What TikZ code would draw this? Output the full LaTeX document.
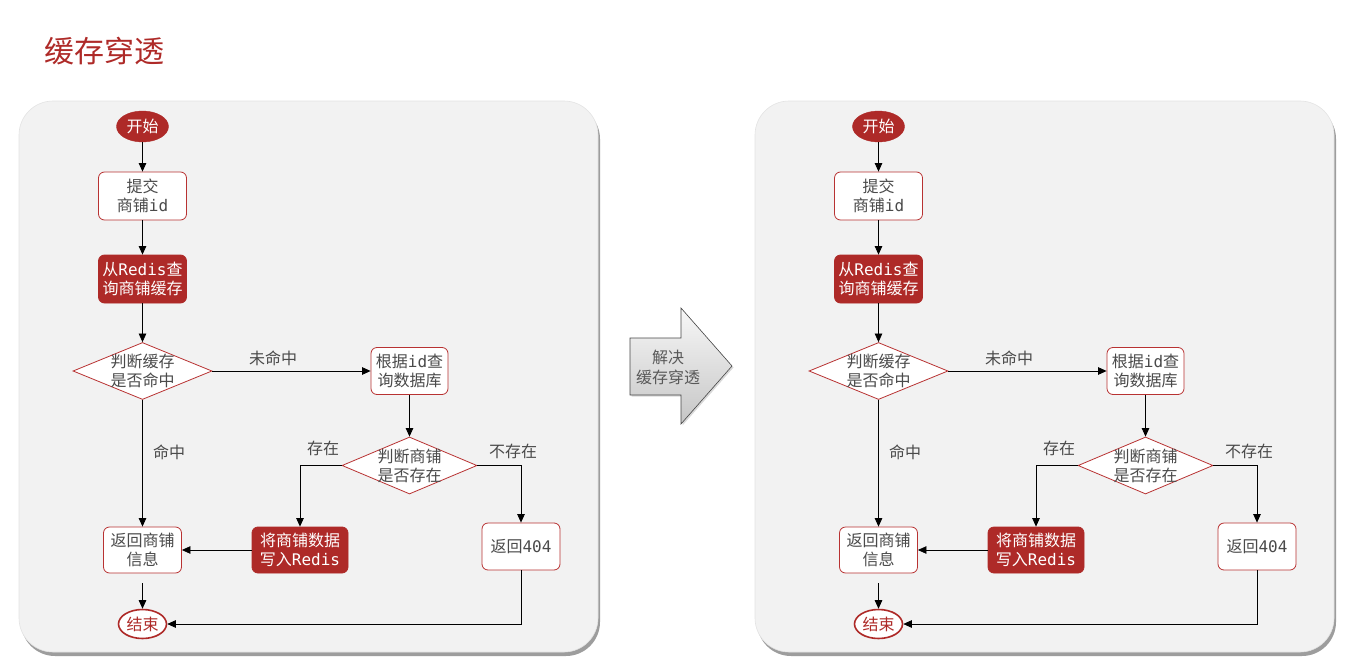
\documentclass[tikz,border=0pt]{standalone}
\usepackage{fontspec}
\newfontfamily\cjk{Noto Sans CJK SC}
\newfontfamily\mono{DejaVu Sans Mono}
\usetikzlibrary{shapes.geometric,arrows.meta,shadows,calc}
\definecolor{dred}{HTML}{AE2A28}
\definecolor{bred}{HTML}{B83232}
\definecolor{txtc}{HTML}{4A4A4A}
\definecolor{panelc}{HTML}{F2F2F2}
\newcommand\lat[1]{{\mono #1}}
\begin{document}
\begin{tikzpicture}[x=1pt,y=-1pt,
  every node/.style={font=\cjk\fontsize{16}{19}\selectfont, text=txtc, align=center, inner sep=0pt},
  box/.style={draw=bred, line width=0.8pt, fill=white, rounded corners=6pt},
  redbox/.style={draw=dred, line width=0.8pt, fill=dred, rounded corners=6pt, text=white},
  dia/.style={diamond, draw=bred, fill=white, line width=0.8pt, inner sep=0pt, minimum width=139pt, minimum height=57pt},
  startterm/.style={ellipse, fill=dred, draw=dred, text=white, minimum width=52pt, minimum height=31pt},
  endterm/.style={ellipse, fill=white, draw=dred, line width=1.6pt, text=dred, minimum width=48pt, minimum height=29pt},
  conn/.style={-{Triangle[length=8.5pt,width=7.5pt]}, line width=0.75pt, black},
  panelbg/.style={fill=panelc, draw=gray!22, line width=0.6pt, rounded corners=34pt,
     drop shadow={shadow xshift=2pt, shadow yshift=-4pt, opacity=0.55, fill=black!70}}
]
\useasboundingbox (0,0) rectangle (1357,669);

\node[font=\cjk\fontsize{30}{34}\selectfont, text=dred, anchor=west] (title) at (44,51) {缓存穿透};

\foreach \o/\s in {0/L,736/R}{
\begin{scope}[xshift=\o pt]
\path[panelbg] (19,101) rectangle (598,652);

\node[startterm] (start\s) at (142.5,126.5) {开始};
\node[box, minimum width=88pt, minimum height=48pt] (sub\s) at (142.5,196) {提交\\商铺\lat{id}};
\node[redbox, minimum width=88pt, minimum height=48pt] (red\s) at (142.5,279) {从\lat{Redis}查\\询商铺缓存};
\node[dia] (d1\s) at (142.5,371) {};
\node (d1t\s) at (142.5,371) {判断缓存\\是否命中};
\node[box, minimum width=77pt, minimum height=47pt] (db\s) at (409.5,371) {根据\lat{id}查\\询数据库};
\node[dia, minimum width=135pt] (d2\s) at (409.5,465.5) {};
\node (d2t\s) at (409.5,465.5) {判断商铺\\是否存在};
\node[box, minimum width=78pt, minimum height=46pt] (ret\s) at (142.5,550) {返回商铺\\信息};
\node[redbox, minimum width=96pt, minimum height=46pt] (wr\s) at (300,550) {将商铺数据\\写入\lat{Redis}};
\node[box, minimum width=78pt, minimum height=47pt] (r404\s) at (521,546.5) {返回\lat{404}};
\node[endterm] (end\s) at (142.5,624) {结束};

\node (l1\s) at (273,358) {未命中};
\node (l2\s) at (169,452) {命中};
\node (l3\s) at (323,448) {存在};
\node (l4\s) at (513,451) {不存在};

\draw[conn] (start\s) -- (sub\s);
\draw[conn] (sub\s) -- (red\s);
\draw[conn] (red\s) -- (d1\s);
\draw[conn] (d1\s.east) -- (db\s.west);
\draw[conn] (db\s) -- (d2\s);
\draw[conn] (d1\s) -- (ret\s);
\draw[conn] (d2\s.west) -| (wr\s.north);
\draw[conn] (d2\s.east) -| (r404\s.north);
\draw[conn] (wr\s) -- (ret\s);
\draw[conn] ([yshift=-10pt]ret\s.south) -- (end\s.north);
\draw[conn] (r404\s.south) |- (end\s.east);
\end{scope}
}

\path[draw=gray!55!black, line width=0.6pt, top color=gray!6, bottom color=gray!45,
  drop shadow={shadow xshift=1.5pt, shadow yshift=-1.5pt, opacity=0.3}]
  (630,338) -- (681,338) -- (681,308) -- (732,366) -- (681,424) -- (681,395) -- (630,395) -- cycle;
\node[text=black!65, font=\cjk\fontsize{16}{20}\selectfont] (arrtxt) at (668,367) {解决\\缓存穿透};
\end{tikzpicture}
\end{document}
